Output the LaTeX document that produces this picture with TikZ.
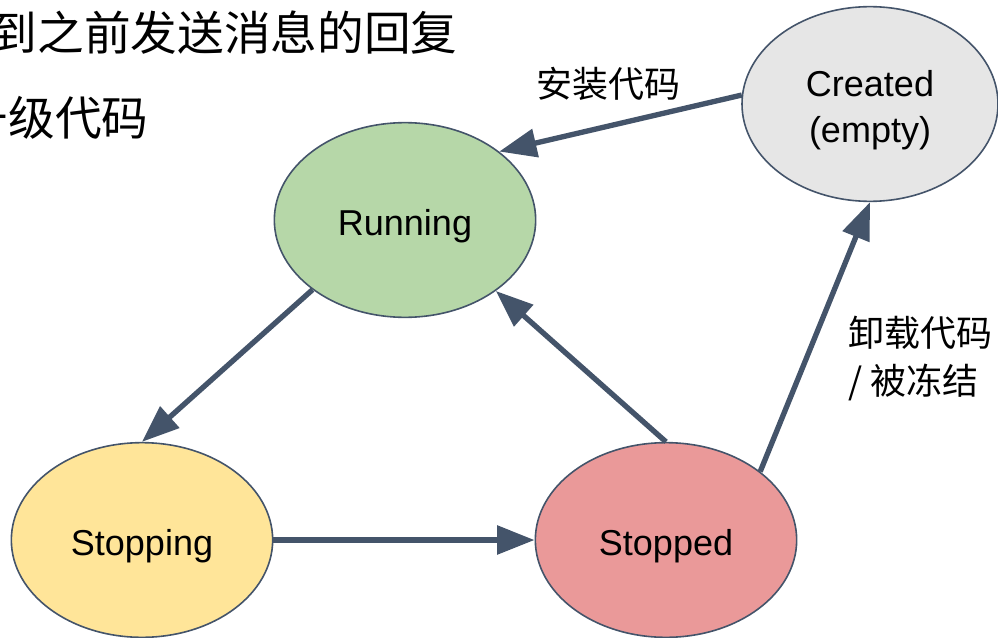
\documentclass[tikz,border=0pt]{standalone}
\usepackage{fontspec}
\setmainfont{Liberation Sans}
\newfontfamily\cjk{Noto Sans CJK SC}
\usetikzlibrary{shapes.geometric,arrows.meta}
\definecolor{edgecol}{HTML}{44546A}
\definecolor{runfill}{HTML}{B6D7A8}
\definecolor{newfill}{HTML}{E6E6E6}
\definecolor{stopingfill}{HTML}{FFE599}
\definecolor{stopedfill}{HTML}{EA9999}
\begin{document}
\begin{tikzpicture}[x=0.75pt,y=-0.75pt]
		\tikzset{state/.style = {shape=ellipse,draw=edgecol,line width=1.2pt,minimum width=196pt,minimum height=146pt,inner sep=0pt,align=center,text height=28.4pt,font=\fontsize{27}{34.5}\selectfont}}
		\tikzset{trans/.style = {-{Triangle[length=28pt,width=21pt]},draw=edgecol,line width=4pt}}
		\tikzset{lbl/.style = {font=\cjk\fontsize{27}{36}\selectfont,text=black}}
		\useasboundingbox (0,0) rectangle (998,638);
		\clip (0,0) rectangle (998,638);
		\node[lbl,font=\cjk\fontsize{35}{40}\selectfont,anchor=west] (note1) at (-14,33) {到之前发送消息的回复};
		\node[lbl,font=\cjk\fontsize{35}{40}\selectfont,anchor=west] (note2) at (-43,118) {升级代码};
		\node[state,fill=runfill] (run) at (405,220) {Running};
		\node[state,fill=newfill,minimum width=192pt,text height=63pt] (new) at (870,104) {Created\\(empty)};
		\node[state,fill=stopingfill] (stoping) at (142,540) {Stopping};
		\node[state,fill=stopedfill] (stoped) at (666,540) {Stopped};
		\path (new.176) edge[trans] node[lbl,pos=0.55,above=14pt] {安装代码} (run.36);
		\path (run.217) edge[trans] (stoping.90);
		\path (stoping.east) edge[trans] (stoped.west);
		\path (stoped.90) edge[trans] (run.322);
		\path (stoped.36) edge[trans] node[lbl,pos=0.42,right=26pt,align=left] {卸载代码\\/ 被冻结} (new.270);
	\end{tikzpicture}
\end{document}
